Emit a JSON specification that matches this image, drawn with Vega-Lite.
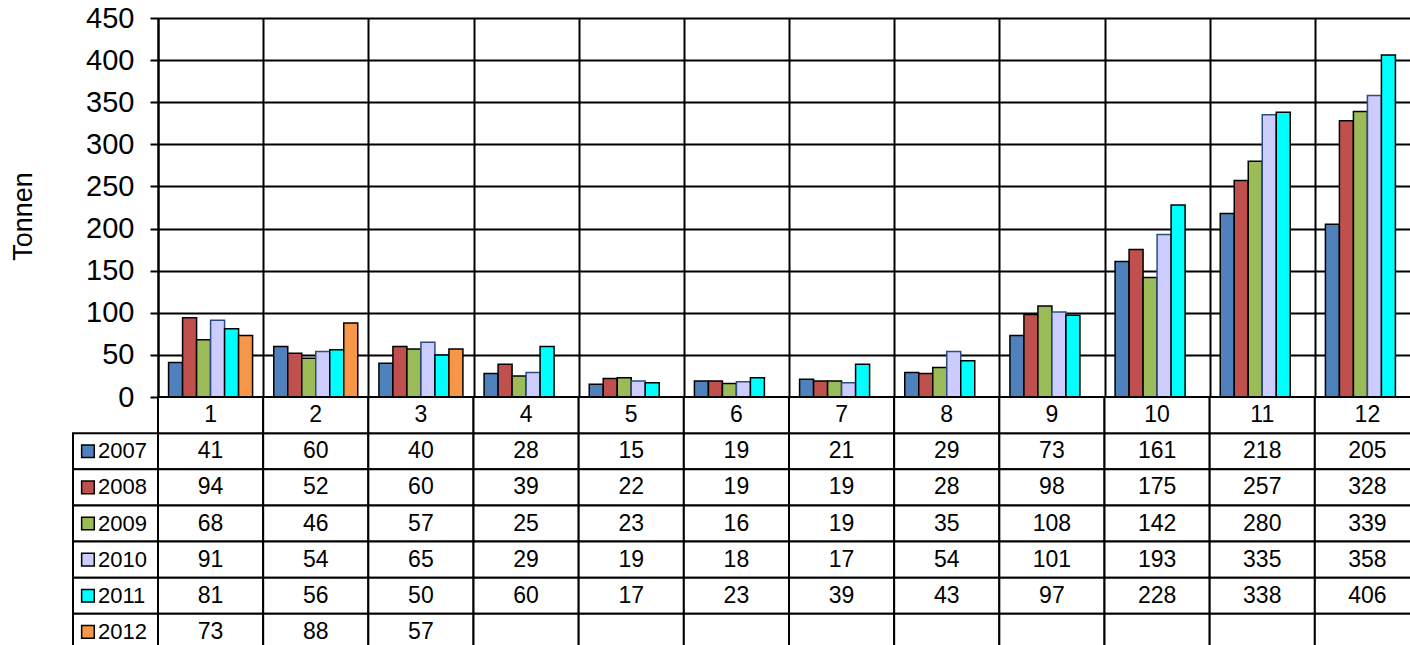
{
  "$schema": "https://vega.github.io/schema/vega-lite/v6.json",
  "padding": {"left": 9, "top": 4, "right": 0, "bottom": 0},
  "background": "white",
  "config": {"view": {"stroke": null}, "font": "Liberation Sans", "text": {"font": "Liberation Sans", "color": "black"}},
  "datasets": {
    "d": [
      {"m":1,"year":"2007","v":41},{"m":2,"year":"2007","v":60},{"m":3,"year":"2007","v":40},{"m":4,"year":"2007","v":28},{"m":5,"year":"2007","v":15},{"m":6,"year":"2007","v":19},{"m":7,"year":"2007","v":21},{"m":8,"year":"2007","v":29},{"m":9,"year":"2007","v":73},{"m":10,"year":"2007","v":161},{"m":11,"year":"2007","v":218},{"m":12,"year":"2007","v":205},
      {"m":1,"year":"2008","v":94},{"m":2,"year":"2008","v":52},{"m":3,"year":"2008","v":60},{"m":4,"year":"2008","v":39},{"m":5,"year":"2008","v":22},{"m":6,"year":"2008","v":19},{"m":7,"year":"2008","v":19},{"m":8,"year":"2008","v":28},{"m":9,"year":"2008","v":98},{"m":10,"year":"2008","v":175},{"m":11,"year":"2008","v":257},{"m":12,"year":"2008","v":328},
      {"m":1,"year":"2009","v":68},{"m":2,"year":"2009","v":46},{"m":3,"year":"2009","v":57},{"m":4,"year":"2009","v":25},{"m":5,"year":"2009","v":23},{"m":6,"year":"2009","v":16},{"m":7,"year":"2009","v":19},{"m":8,"year":"2009","v":35},{"m":9,"year":"2009","v":108},{"m":10,"year":"2009","v":142},{"m":11,"year":"2009","v":280},{"m":12,"year":"2009","v":339},
      {"m":1,"year":"2010","v":91},{"m":2,"year":"2010","v":54},{"m":3,"year":"2010","v":65},{"m":4,"year":"2010","v":29},{"m":5,"year":"2010","v":19},{"m":6,"year":"2010","v":18},{"m":7,"year":"2010","v":17},{"m":8,"year":"2010","v":54},{"m":9,"year":"2010","v":101},{"m":10,"year":"2010","v":193},{"m":11,"year":"2010","v":335},{"m":12,"year":"2010","v":358},
      {"m":1,"year":"2011","v":81},{"m":2,"year":"2011","v":56},{"m":3,"year":"2011","v":50},{"m":4,"year":"2011","v":60},{"m":5,"year":"2011","v":17},{"m":6,"year":"2011","v":23},{"m":7,"year":"2011","v":39},{"m":8,"year":"2011","v":43},{"m":9,"year":"2011","v":97},{"m":10,"year":"2011","v":228},{"m":11,"year":"2011","v":338},{"m":12,"year":"2011","v":406},
      {"m":1,"year":"2012","v":73},{"m":2,"year":"2012","v":88},{"m":3,"year":"2012","v":57},{"m":4,"year":"2012","v":null},{"m":5,"year":"2012","v":null},{"m":6,"year":"2012","v":null},{"m":7,"year":"2012","v":null},{"m":8,"year":"2012","v":null},{"m":9,"year":"2012","v":null},{"m":10,"year":"2012","v":null},{"m":11,"year":"2012","v":null},{"m":12,"year":"2012","v":null}
    ]
  },
  "bounds": "flush",
  "spacing": 0,
  "columns": 2,
  "concat": [
    {"data": {"values": [{}]}, "width": 85, "height": 379, "mark": {"type": "point", "opacity": 0}},
    {
      "data": {"name": "d"},
      "width": 1262,
      "height": 379,
      "mark": {"type": "bar", "strokeWidth": 1.5},
      "encoding": {
        "x": {"field": "m", "type": "ordinal", "scale": {"paddingInner": 0, "paddingOuter": 0},
          "axis": {"title": null, "labels": false, "ticks": false, "grid": true, "tickBand": "extent", "gridColor": "black", "gridWidth": 2, "gridOpacity": 1, "domainColor": "black", "domainWidth": 2}},
        "xOffset": {"field": "year", "type": "ordinal", "scale": {"domain": ["2007","2008","2009","2010","2011","2012"], "paddingInner": 0, "paddingOuter": 0.756}},
        "y": {"field": "v", "type": "quantitative", "scale": {"domain": [0, 450], "nice": false},
          "axis": {"values": [0,50,100,150,200,250,300,350,400,450], "title": "Tonnen", "titleFontSize": 27, "titleFontWeight": "normal", "titleColor": "black", "titleFont": "Liberation Sans", "titlePadding": 48, "titleY": 198,
            "labelFontSize": 29, "labelFont": "Liberation Sans", "labelColor": "black", "labelPadding": 16,
            "tickColor": "black", "tickWidth": 2, "tickSize": 8, "domainColor": "black", "domainWidth": 2,
            "grid": true, "gridColor": "black", "gridWidth": 2, "gridOpacity": 1}},
        "color": {"field": "year", "type": "ordinal", "scale": {"domain": ["2007","2008","2009","2010","2011","2012"], "range": ["#4F81BD","#C0504D","#9BBB59","#CCCCFF","#00FFFF","#F79646"]}, "legend": null},
        "stroke": {"condition": {"test": "datum.year == '2010'", "value": "#2c4d80"}, "value": "black"}
      }
    },
    {
      "data": {"name": "d"},
      "width": 85,
      "height": 253,
      "transform": [{"filter": "datum.m == 1"}],
      "encoding": {
        "y": {"field": "year", "type": "ordinal", "scale": {"domain": ["hdr","2007","2008","2009","2010","2011","2012"], "paddingInner": 0, "paddingOuter": 0}, "axis": null}
      },
      "layer": [
        {"mark": {"type": "rect", "fill": "white", "stroke": "black", "strokeWidth": 2},
         "encoding": {"x": {"datum": "k", "type": "nominal", "scale": {"domain": ["k"], "paddingInner": 0, "paddingOuter": 0}, "axis": null}}},
        {"mark": {"type": "point", "shape": "square", "filled": true, "size": 160, "stroke": "black", "strokeWidth": 1.5, "opacity": 1},
         "encoding": {"x": {"datum": "k", "type": "nominal", "bandPosition": 0.176},
           "color": {"field": "year", "type": "ordinal", "scale": {"domain": ["2007","2008","2009","2010","2011","2012"], "range": ["#4F81BD","#C0504D","#9BBB59","#CCCCFF","#00FFFF","#F79646"]}, "legend": null}}},
        {"mark": {"type": "text", "align": "left", "fontSize": 22},
         "encoding": {"x": {"datum": "k", "type": "nominal", "bandPosition": 0.294}, "text": {"field": "year"}}}
      ]
    },
    {
      "data": {"name": "d"},
      "width": 1262,
      "height": 253,
      "encoding": {
        "x": {"field": "m", "type": "ordinal", "scale": {"paddingInner": 0, "paddingOuter": 0}, "axis": null}
      },
      "layer": [
        {"mark": {"type": "rect", "fill": "white", "stroke": "black", "strokeWidth": 2},
         "encoding": {"y": {"field": "year", "type": "ordinal", "scale": {"domain": ["hdr","2007","2008","2009","2010","2011","2012"], "paddingInner": 0, "paddingOuter": 0}, "axis": null}}},
        {"transform": [{"filter": "datum.year == '2007'"}],
         "mark": {"type": "rect", "fill": "white", "stroke": "black", "strokeWidth": 2},
         "encoding": {"y": {"datum": "hdr", "type": "ordinal"}}},
        {"transform": [{"filter": "datum.v != null"}],
         "mark": {"type": "text", "fontSize": 23},
         "encoding": {"y": {"field": "year", "type": "ordinal"}, "text": {"field": "v"}}},
        {"transform": [{"filter": "datum.year == '2007'"}],
         "mark": {"type": "text", "fontSize": 23},
         "encoding": {"y": {"datum": "hdr", "type": "ordinal"}, "text": {"field": "m"}}}
      ]
    }
  ]
}
